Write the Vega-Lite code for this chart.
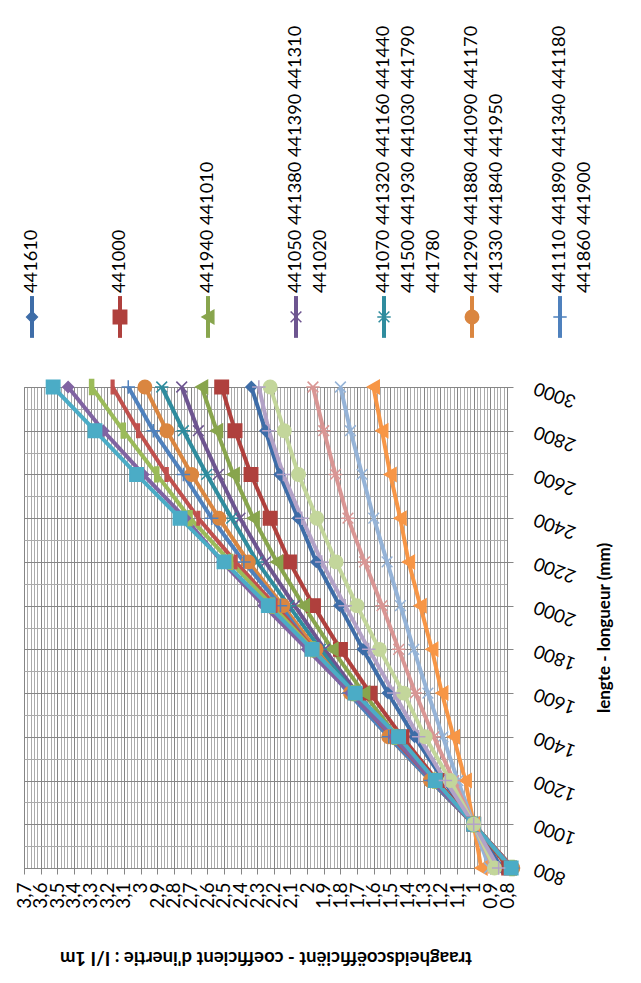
{
"$schema":"https://vega.github.io/schema/vega-lite/v6.json",
"background":"white",
"padding":{"left":14,"top":0,"right":0,"bottom":0},
"spacing":0,
"bounds":"flush",
"config":{"font":"Lato","view":{"stroke":null},"concat":{"spacing":0}},
"datasets":{
"legend":[
{"s":"01","label":"441610"},
{"s":"02","label":"441000"},
{"s":"03","label":"441940 441010"},
{"s":"04","label":"441050 441380 441390 441310\n441020"},
{"s":"05","label":"441070 441320 441160 441440\n441500 441930 441030 441790\n441780"},
{"s":"06","label":"441290 441880 441090 441170\n441330 441840 441950"},
{"s":"07","label":"441110 441890 441340 441180\n441860 441900"}
],
"curves":[
{"s":"01","L":800,"v":0.83},{"s":"01","L":1000,"v":1.0},{"s":"01","L":1200,"v":1.18},{"s":"01","L":1400,"v":1.355},{"s":"01","L":1600,"v":1.515},{"s":"01","L":1800,"v":1.665},{"s":"01","L":2000,"v":1.805},{"s":"01","L":2200,"v":1.945},{"s":"01","L":2400,"v":2.055},{"s":"01","L":2600,"v":2.165},{"s":"01","L":2800,"v":2.25},{"s":"01","L":3000,"v":2.335},
{"s":"02","L":800,"v":0.79},{"s":"02","L":1000,"v":1.0},{"s":"02","L":1200,"v":1.22},{"s":"02","L":1400,"v":1.43},{"s":"02","L":1600,"v":1.622},{"s":"02","L":1800,"v":1.8},{"s":"02","L":2000,"v":1.962},{"s":"02","L":2200,"v":2.106},{"s":"02","L":2400,"v":2.222},{"s":"02","L":2600,"v":2.337},{"s":"02","L":2800,"v":2.433},{"s":"02","L":3000,"v":2.513},
{"s":"03","L":800,"v":0.78},{"s":"03","L":1000,"v":1.0},{"s":"03","L":1200,"v":1.24},{"s":"03","L":1400,"v":1.46},{"s":"03","L":1600,"v":1.66},{"s":"03","L":1800,"v":1.85},{"s":"03","L":2000,"v":2.022},{"s":"03","L":2200,"v":2.182},{"s":"03","L":2400,"v":2.323},{"s":"03","L":2600,"v":2.443},{"s":"03","L":2800,"v":2.543},{"s":"03","L":3000,"v":2.633},
{"s":"04","L":800,"v":0.775},{"s":"04","L":1000,"v":1.0},{"s":"04","L":1200,"v":1.245},{"s":"04","L":1400,"v":1.48},{"s":"04","L":1600,"v":1.7},{"s":"04","L":1800,"v":1.895},{"s":"04","L":2000,"v":2.075},{"s":"04","L":2200,"v":2.25},{"s":"04","L":2400,"v":2.403},{"s":"04","L":2600,"v":2.533},{"s":"04","L":2800,"v":2.653},{"s":"04","L":3000,"v":2.753},
{"s":"05","L":800,"v":0.77},{"s":"05","L":1000,"v":1.0},{"s":"05","L":1200,"v":1.255},{"s":"05","L":1400,"v":1.5},{"s":"05","L":1600,"v":1.72},{"s":"05","L":1800,"v":1.92},{"s":"05","L":2000,"v":2.11},{"s":"05","L":2200,"v":2.3},{"s":"05","L":2400,"v":2.453},{"s":"05","L":2600,"v":2.603},{"s":"05","L":2800,"v":2.743},{"s":"05","L":3000,"v":2.873},
{"s":"06","L":800,"v":0.765},{"s":"06","L":1000,"v":1.0},{"s":"06","L":1200,"v":1.26},{"s":"06","L":1400,"v":1.51},{"s":"06","L":1600,"v":1.74},{"s":"06","L":1800,"v":1.946},{"s":"06","L":2000,"v":2.146},{"s":"06","L":2200,"v":2.353},{"s":"06","L":2400,"v":2.529},{"s":"06","L":2600,"v":2.693},{"s":"06","L":2800,"v":2.843},{"s":"06","L":3000,"v":2.974},
{"s":"07","L":800,"v":0.765},{"s":"07","L":1000,"v":1.0},{"s":"07","L":1200,"v":1.26},{"s":"07","L":1400,"v":1.51},{"s":"07","L":1600,"v":1.75},{"s":"07","L":1800,"v":1.97},{"s":"07","L":2000,"v":2.16},{"s":"07","L":2200,"v":2.38},{"s":"07","L":2400,"v":2.573},{"s":"07","L":2600,"v":2.743},{"s":"07","L":2800,"v":2.924},{"s":"07","L":3000,"v":3.074},
{"s":"08","L":800,"v":0.765},{"s":"08","L":1000,"v":1.0},{"s":"08","L":1200,"v":1.245},{"s":"08","L":1400,"v":1.49},{"s":"08","L":1600,"v":1.73},{"s":"08","L":1800,"v":1.96},{"s":"08","L":2000,"v":2.19},{"s":"08","L":2200,"v":2.43},{"s":"08","L":2400,"v":2.653},{"s":"08","L":2600,"v":2.843},{"s":"08","L":2800,"v":3.015},{"s":"08","L":3000,"v":3.168},
{"s":"09","L":800,"v":0.77},{"s":"09","L":1000,"v":1.0},{"s":"09","L":1200,"v":1.235},{"s":"09","L":1400,"v":1.475},{"s":"09","L":1600,"v":1.72},{"s":"09","L":1800,"v":1.965},{"s":"09","L":2000,"v":2.21},{"s":"09","L":2200,"v":2.46},{"s":"09","L":2400,"v":2.703},{"s":"09","L":2600,"v":2.903},{"s":"09","L":2800,"v":3.104},{"s":"09","L":3000,"v":3.294},
{"s":"10","L":800,"v":0.77},{"s":"10","L":1000,"v":1.0},{"s":"10","L":1200,"v":1.245},{"s":"10","L":1400,"v":1.48},{"s":"10","L":1600,"v":1.74},{"s":"10","L":1800,"v":2.0},{"s":"10","L":2000,"v":2.26},{"s":"10","L":2200,"v":2.51},{"s":"10","L":2400,"v":2.733},{"s":"10","L":2600,"v":2.984},{"s":"10","L":2800,"v":3.224},{"s":"10","L":3000,"v":3.435},
{"s":"11","L":800,"v":0.775},{"s":"11","L":1000,"v":1.0},{"s":"11","L":1200,"v":1.231},{"s":"11","L":1400,"v":1.451},{"s":"11","L":1600,"v":1.712},{"s":"11","L":1800,"v":1.97},{"s":"11","L":2000,"v":2.233},{"s":"11","L":2200,"v":2.499},{"s":"11","L":2400,"v":2.763},{"s":"11","L":2600,"v":3.024},{"s":"11","L":2800,"v":3.274},{"s":"11","L":3000,"v":3.525},
{"s":"12","L":800,"v":0.955},{"s":"12","L":1000,"v":1.0},{"s":"12","L":1200,"v":1.05},{"s":"12","L":1400,"v":1.121},{"s":"12","L":1600,"v":1.191},{"s":"12","L":1800,"v":1.251},{"s":"12","L":2000,"v":1.321},{"s":"12","L":2200,"v":1.391},{"s":"12","L":2400,"v":1.441},{"s":"12","L":2600,"v":1.501},{"s":"12","L":2800,"v":1.551},{"s":"12","L":3000,"v":1.602},
{"s":"13","L":800,"v":0.905},{"s":"13","L":1000,"v":1.0},{"s":"13","L":1200,"v":1.095},{"s":"13","L":1400,"v":1.185},{"s":"13","L":1600,"v":1.275},{"s":"13","L":1800,"v":1.36},{"s":"13","L":2000,"v":1.44},{"s":"13","L":2200,"v":1.52},{"s":"13","L":2400,"v":1.6},{"s":"13","L":2600,"v":1.67},{"s":"13","L":2800,"v":1.74},{"s":"13","L":3000,"v":1.8},
{"s":"14","L":800,"v":0.88},{"s":"14","L":1000,"v":1.0},{"s":"14","L":1200,"v":1.12},{"s":"14","L":1400,"v":1.24},{"s":"14","L":1600,"v":1.35},{"s":"14","L":1800,"v":1.45},{"s":"14","L":2000,"v":1.55},{"s":"14","L":2200,"v":1.655},{"s":"14","L":2400,"v":1.755},{"s":"14","L":2600,"v":1.83},{"s":"14","L":2800,"v":1.9},{"s":"14","L":3000,"v":1.965},
{"s":"15","L":800,"v":0.875},{"s":"15","L":1000,"v":1.0},{"s":"15","L":1200,"v":1.141},{"s":"15","L":1400,"v":1.291},{"s":"15","L":1600,"v":1.421},{"s":"15","L":1800,"v":1.566},{"s":"15","L":2000,"v":1.701},{"s":"15","L":2200,"v":1.826},{"s":"15","L":2400,"v":1.942},{"s":"15","L":2600,"v":2.052},{"s":"15","L":2800,"v":2.137},{"s":"15","L":3000,"v":2.222},
{"s":"16","L":800,"v":0.85},{"s":"16","L":1000,"v":1.0},{"s":"16","L":1200,"v":1.17},{"s":"16","L":1400,"v":1.33},{"s":"16","L":1600,"v":1.48},{"s":"16","L":1800,"v":1.63},{"s":"16","L":2000,"v":1.772},{"s":"16","L":2200,"v":1.912},{"s":"16","L":2400,"v":2.032},{"s":"16","L":2600,"v":2.143},{"s":"16","L":2800,"v":2.23},{"s":"16","L":3000,"v":2.29}
]
},
"vconcat":[
{
"width":544,"height":387,
"data":{"name":"legend"},
"encoding":{"x":{"field":"s","type":"nominal","scale":{"type":"point","padding":0.0909},"axis":null}},
"layer":[
{"mark":{"type":"rule","strokeWidth":4},
 "encoding":{"y":{"datum":0.765,"type":"quantitative","scale":{"domain":[0,1],"reverse":true},"axis":null},"y2":{"datum":0.873},
 "color":{"field":"s","type":"nominal","scale":{"domain":["01","02","03","04","05","06","07","08","09","10","11","12","13","14","15","16"],"range":["#3E6DA8","#AF403D","#88A54D","#6D5590","#2F8C9E","#DA8640","#4F81BD","#C0504D","#9BBB59","#8064A2","#4BACC6","#F79646","#95B3D7","#D99694","#C3D69B","#B3A2C7"]},"legend":null}}},
{"mark":{"type":"point","filled":true,"strokeWidth":1.5,"opacity":1,"size":180},
 "encoding":{"y":{"datum":0.819,"type":"quantitative"},
 "color":{"field":"s","type":"nominal","legend":null},
 "stroke":{"field":"s","type":"nominal","scale":{"domain":["01","02","03","04","05","06","07","08","09","10","11","12","13","14","15","16"],"range":["#3E6DA8","#AF403D","#88A54D","#6D5590","#2F8C9E","#DA8640","#4F81BD","#C0504D","#9BBB59","#8064A2","#4BACC6","#F79646","#95B3D7","#D99694","#C3D69B","#B3A2C7"]},"legend":null},
 "shape":{"field":"s","type":"nominal","legend":null}}},
{"mark":{"type":"text","angle":270,"align":"left","baseline":"top","dy":-9,"lineBreak":"\n","lineHeight":25,"fontSize":18.2,"font":"Lato","fill":"#000000"},
 "encoding":{"y":{"datum":0.757,"type":"quantitative"},"text":{"field":"label","type":"nominal"}}}
]
},
{
"width":483,"height":481,
"data":{"name":"curves"},
"encoding":{
 "x":{"field":"v","type":"quantitative","scale":{"domain":[0.8,3.7],"reverse":true,"nice":false,"zero":false},
  "axis":{"orient":"bottom","tickCount":145,"grid":true,
   "gridColor":{"condition":{"test":"round(datum.value*100) % 10 == 0","value":"#868686"},"value":"#ababab"},
   "gridWidth":1,"tickColor":"#868686","tickSize":6,
   "tickOpacity":{"condition":{"test":"round(datum.value*100) % 10 == 0","value":1},"value":0},
   "domainColor":"#868686",
   "labelExpr":"round(datum.value*100) % 10 == 0 ? replace(format(datum.value, '.1~f'), '.', ',') : ''",
   "labelAngle":270,"labelAlign":"right","labelBaseline":"middle","labelFontSize":19,"labelColor":"#000000","labelOverlap":false,"labelFlush":false,"labelPadding":8,
   "title":"traagheidscoëfficiënt - coefficient d'inertie : I/I 1m","titleAngle":180,"titleBaseline":"middle","titleFontSize":18.5,"titleFontWeight":"bold","titleColor":"#000000","titlePadding":49}},
 "y":{"field":"L","type":"quantitative","scale":{"domain":[800,3000],"nice":false,"zero":false},
  "axis":{"orient":"right","tickCount":22,"grid":true,
   "gridColor":{"condition":{"test":"datum.value % 200 == 0","value":"#868686"},"value":"#ababab"},
   "gridWidth":1,"tickColor":"#868686","tickSize":6,
   "tickOpacity":{"condition":{"test":"datum.value % 200 == 0","value":1},"value":0},
   "domainColor":"#868686",
   "labelExpr":"datum.value % 200 == 0 ? format(datum.value, 'd') : ''",
   "labelAngle":200,"labelAlign":"right","labelBaseline":"middle","labelFontSize":18.5,"labelColor":"#000000","labelOverlap":false,"labelFlush":false,"labelPadding":21,
   "title":"lengte - longueur (mm)","titleAngle":270,"titleBaseline":"middle","titleFontSize":17,"titleFontWeight":"bold","titleColor":"#000000","titlePadding":27}},
 "color":{"field":"s","type":"nominal","legend":null}
},
"layer":[
{"mark":{"type":"line","strokeWidth":4}},
{"mark":{"type":"point","filled":true,"strokeWidth":1.5,"opacity":1,"size":180},
 "encoding":{
  "stroke":{"field":"s","type":"nominal","legend":null},
  "shape":{"field":"s","type":"nominal","scale":{"domain":["01","02","03","04","05","06","07","08","09","10","11","12","13","14","15","16"],"range":["M-0.8,0L0,-0.8L0.8,0L0,0.8Z","square","triangle-left","M-0.8,-0.8L0.8,0.8M-0.8,0.8L0.8,-0.8","M-0.8,-0.8L0.8,0.8M-0.8,0.8L0.8,-0.8M-1,0L1,0","circle","M-1,0L1,0M0,-1L0,1","M-0.2,-1L0.2,-1L0.2,1L-0.2,1Z","M-0.3,-1.1L0.3,-1.1L0.3,1.1L-0.3,1.1Z","M-0.8,0L0,-0.8L0.8,0L0,0.8Z","square","triangle-left","M-0.8,-0.8L0.8,0.8M-0.8,0.8L0.8,-0.8","M-0.8,-0.8L0.8,0.8M-0.8,0.8L0.8,-0.8M-1,0L1,0","circle","M-1,0L1,0M0,-1L0,1"]},"legend":null}}}
],
"view":{"stroke":"#868686"}
}
]
}
